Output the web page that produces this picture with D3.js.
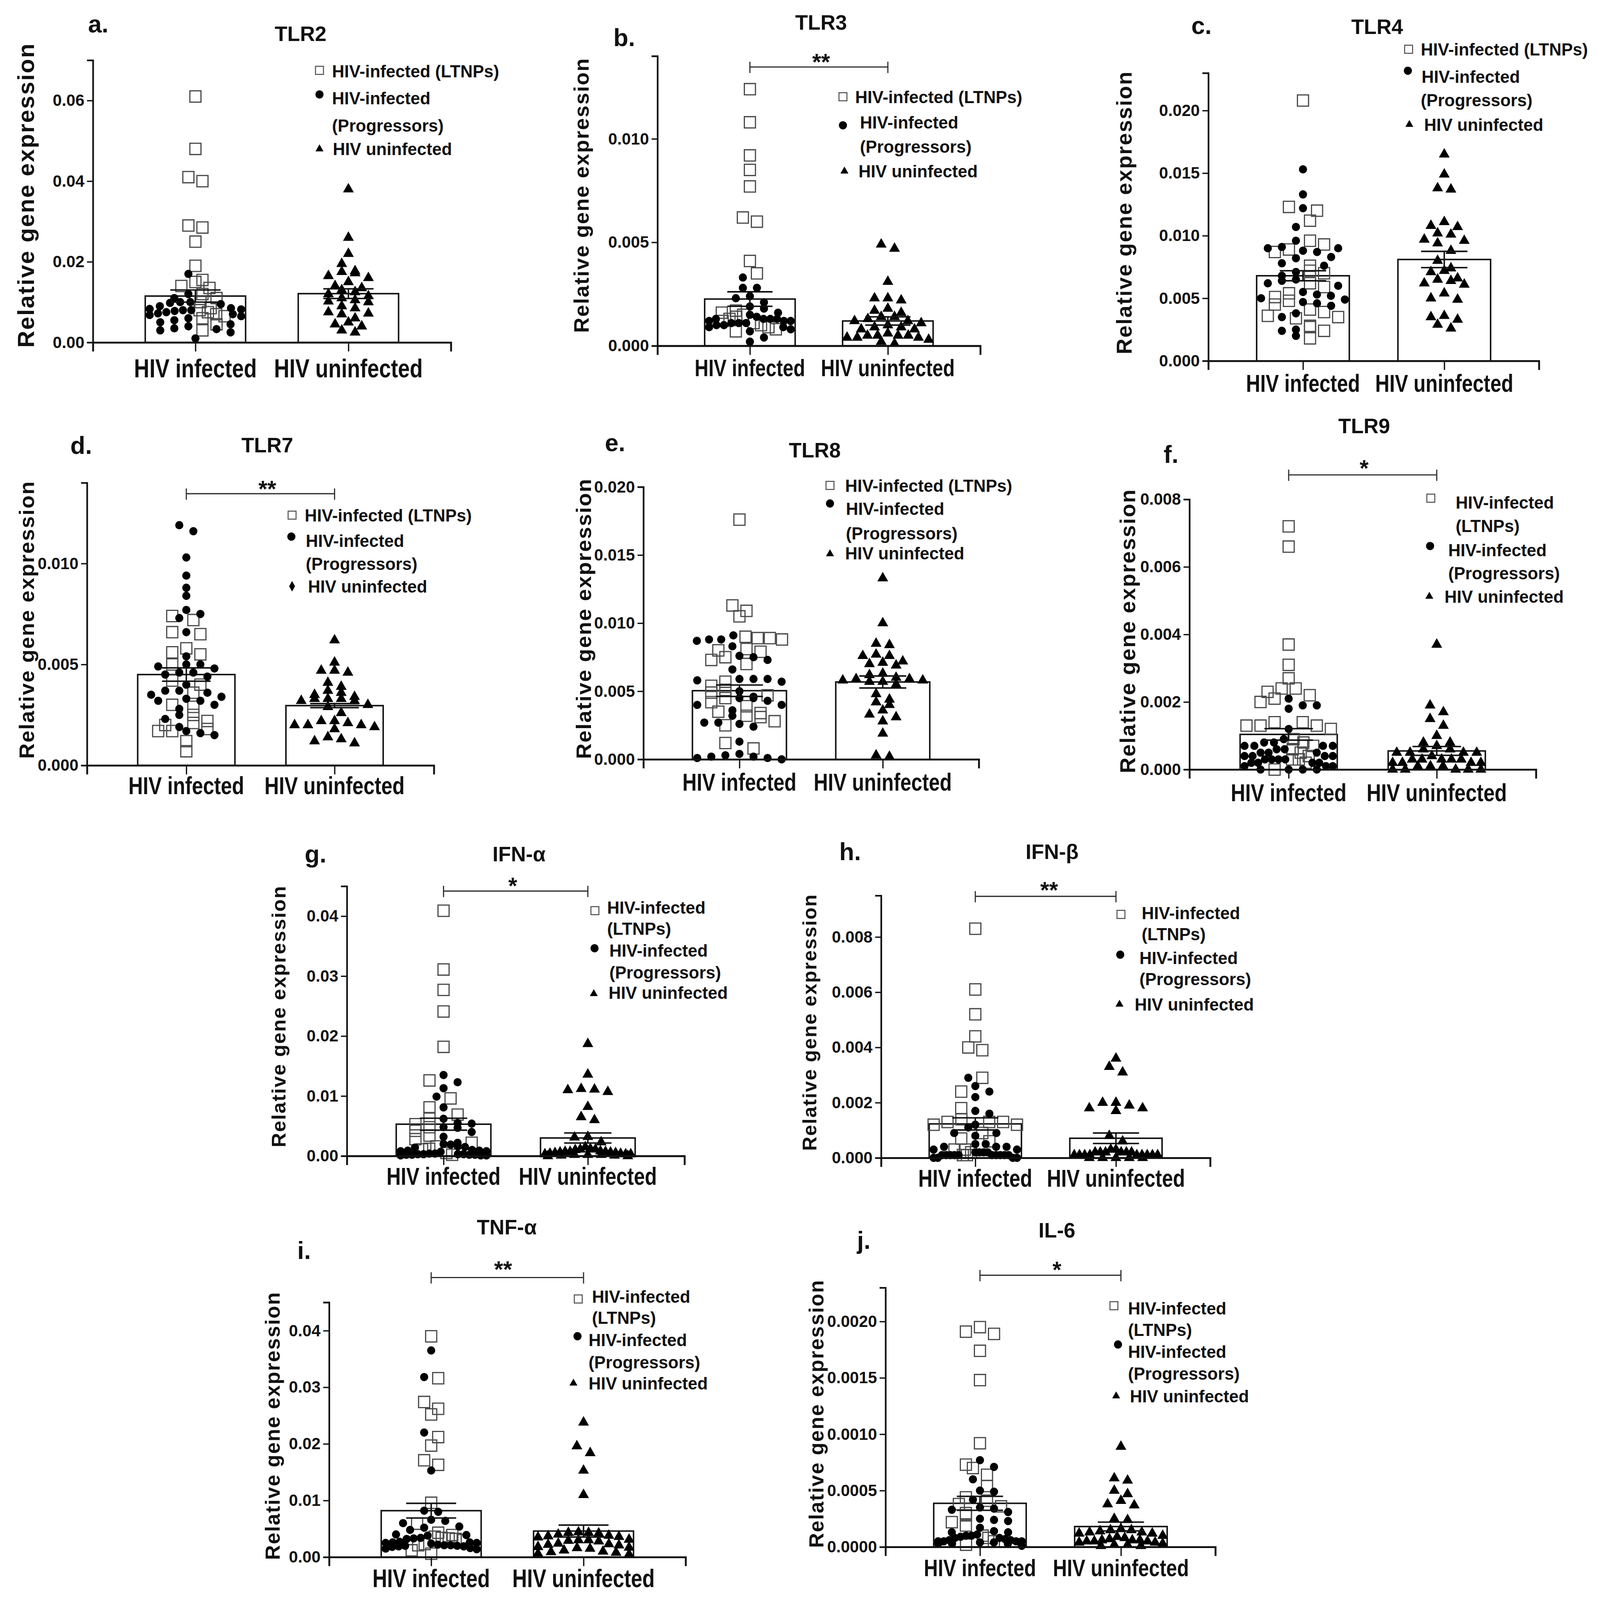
<!DOCTYPE html>
<html><head><meta charset="utf-8">
<script src="https://cdn.jsdelivr.net/npm/d3@7"></script>
<style>
html,body{margin:0;padding:0;background:#fff;overflow:hidden;width:100%;height:100%;}
#chart{display:block;width:100vw;height:100vh;}
svg text{font-family:"Liberation Sans", Arial, Helvetica, sans-serif; font-weight:bold; fill:#111;}
</style></head><body>
<svg id="chart" viewBox="0 0 4322 4252" preserveAspectRatio="none"></svg>
<script>
// ---------------- DATA ----------------
const categories = ["HIV infected", "HIV uninfected"];

// a. TLR2
const tlr2LTNP = [0.061,0.048,0.041,0.040,0.029,0.0285,0.025,0.019,0.0155,0.015,0.014,0.0135,0.012,0.011,0.010,0.0085,0.008,0.0075,0.007,0.0065,0.006,0.0045,0.003];
const tlr2Prog = [0.017,0.012,0.011,0.010,0.010,0.0098,0.0095,0.009,0.0085,0.0083,0.0082,0.008,0.008,0.0078,0.0075,0.0072,0.007,0.0068,0.0065,0.006,0.0055,0.005,0.0045,0.004,0.0035,0.0033,0.003,0.0025,0.001];
const tlr2Uninf = [0.038,0.026,0.022,0.0195,0.0177,0.0175,0.0172,0.0165,0.016,0.015,0.014,0.0135,0.013,0.0125,0.012,0.0115,0.011,0.0105,0.0102,0.010,0.009,0.0085,0.0075,0.0072,0.007,0.006,0.005,0.0045,0.004,0.003,0.0025];
const tlr2Mean = [0.0115,0.0121], tlr2SEM = [0.0015,0.0012];
const tlr2Ticks = [0,0.02,0.04,0.06];

// b. TLR3
const tlr3LTNP = [0.0124,0.0108,0.0092,0.0085,0.0077,0.0062,0.0060,0.0041,0.0035,0.0017,0.0016,0.0015,0.0014,0.0013,0.0012,0.0011,0.0010,0.0009,0.0008,0.0007];
const tlr3Prog = [0.0033,0.0028,0.0028,0.0024,0.0023,0.0021,0.0019,0.0018,0.0016,0.0015,0.0014,0.0013,0.0013,0.0013,0.0013,0.0012,0.0012,0.0012,0.0011,0.0011,0.0011,0.0010,0.0010,0.0009,0.0009,0.0008,0.0007,0.0004,0.0002];
const tlr3Uninf = [0.0049,0.0047,0.0031,0.0023,0.0023,0.0022,0.0018,0.0017,0.0016,0.0014,0.0014,0.0013,0.0012,0.0012,0.0011,0.0010,0.0009,0.0009,0.0008,0.0008,0.0006,0.0005,0.0005,0.0005,0.0005,0.0004,0.0004,0.0004,0.0003,0.0002,0.0001];
const tlr3Mean = [0.00226,0.0012], tlr3SEM = [0.00035,0.0002];
const tlr3Ticks = [0,0.005,0.010];

// c. TLR4
const tlr4LTNP = [0.0208,0.0123,0.0120,0.0112,0.0096,0.0093,0.0089,0.0087,0.0076,0.0072,0.0070,0.0062,0.0059,0.0054,0.0051,0.0048,0.0045,0.0041,0.0039,0.0036,0.0035,0.0034,0.0028,0.0027,0.0024,0.0018];
const tlr4Prog = [0.0153,0.0133,0.0122,0.0107,0.0096,0.0091,0.0090,0.0090,0.0088,0.0087,0.0083,0.0082,0.0078,0.0076,0.0071,0.0068,0.0065,0.0064,0.0062,0.0060,0.0055,0.0053,0.0052,0.0050,0.0049,0.0047,0.0046,0.0044,0.0038,0.0035,0.0025,0.0024,0.0020];
const tlr4Uninf = [0.0165,0.0149,0.0138,0.0137,0.0111,0.0108,0.0107,0.0102,0.0101,0.0097,0.0096,0.0094,0.0088,0.0080,0.0074,0.0072,0.0071,0.0066,0.0065,0.0064,0.0062,0.0061,0.0054,0.0050,0.0049,0.0036,0.0035,0.0033,0.0029,0.0026];
const tlr4Mean = [0.0068,0.0081], tlr4SEM = [0.0004,0.00065];
const tlr4Ticks = [0,0.005,0.010,0.015,0.020];

// d. TLR7
const tlr7LTNP = [0.0074,0.0072,0.0066,0.0065,0.0058,0.0056,0.0055,0.0050,0.0042,0.0040,0.0036,0.0030,0.0029,0.0025,0.0022,0.0021,0.0020,0.0018,0.0017,0.0017,0.0012,0.0007];
const tlr7Prog = [0.0119,0.0116,0.0103,0.0094,0.0088,0.0084,0.0077,0.0075,0.0073,0.0066,0.0054,0.0050,0.0050,0.0049,0.0048,0.0046,0.0046,0.0045,0.0044,0.0040,0.0037,0.0037,0.0036,0.0035,0.0034,0.0033,0.0032,0.0032,0.0030,0.0028,0.0025,0.0023,0.0019,0.0017,0.0016,0.0015];
const tlr7Uninf = [0.0062,0.0051,0.0047,0.0047,0.0046,0.0041,0.0039,0.0037,0.0036,0.0035,0.0034,0.0033,0.0033,0.0033,0.0032,0.0032,0.0030,0.0029,0.0026,0.0022,0.0022,0.0021,0.0020,0.0020,0.0020,0.0019,0.0018,0.0014,0.0013,0.0012,0.0011];
const tlr7Mean = [0.0045,0.00296], tlr7SEM = [0.00033,0.0001];
const tlr7Ticks = [0,0.005,0.010];

// e. TLR8
const tlr8LTNP = [0.0176,0.0113,0.0109,0.0105,0.0090,0.0089,0.0089,0.0088,0.0081,0.0080,0.0079,0.0075,0.0073,0.0070,0.0057,0.0054,0.0051,0.0049,0.0047,0.0045,0.0042,0.0039,0.0035,0.0034,0.0032,0.0031,0.0028,0.0025,0.0012,0.0008];
const tlr8Prog = [0.0091,0.0088,0.0088,0.0087,0.0083,0.0076,0.0075,0.0073,0.0066,0.0059,0.0059,0.0059,0.0058,0.0057,0.0050,0.0046,0.0045,0.0045,0.0043,0.0040,0.0040,0.0036,0.0032,0.0027,0.0027,0.0026,0.0024,0.0013,0.0004,0.0003,0.0002,0.0002,0.0001,0.0001,0.0000];
const tlr8Uninf = [0.0133,0.0100,0.0085,0.0084,0.0077,0.0076,0.0076,0.0072,0.0071,0.0070,0.0069,0.0063,0.0062,0.0060,0.0059,0.0059,0.0058,0.0058,0.0057,0.0057,0.0055,0.0048,0.0044,0.0042,0.0040,0.0036,0.0033,0.0031,0.0028,0.0019,0.0003,0.0002];
const tlr8Mean = [0.00504,0.00568], tlr8SEM = [0.00042,0.00044];
const tlr8Ticks = [0,0.005,0.010,0.015,0.020];

// f. TLR9
const tlr9LTNP = [0.0072,0.0066,0.0037,0.0031,0.0027,0.0024,0.0024,0.0023,0.0022,0.0021,0.0020,0.0014,0.0014,0.0013,0.0013,0.0013,0.0012,0.0009,0.0008,0.0007,0.0006,0.0005,0.0004,0.0003,0.0003,0.0002,0.0000];
const tlr9Prog = [0.0021,0.0019,0.0019,0.0018,0.0012,0.0009,0.0008,0.0008,0.0007,0.0007,0.0007,0.0007,0.0006,0.0006,0.0005,0.0005,0.0005,0.0004,0.0004,0.0004,0.0004,0.0003,0.0003,0.0003,0.0003,0.0002,0.0002,0.0002,0.0002,0.0001,0.0001,0.0001,0.0000,0.0000,0.0000,0.0000];
const tlr9Uninf = [0.0037,0.0019,0.0017,0.0015,0.0013,0.0010,0.0008,0.0008,0.0007,0.0006,0.0006,0.0005,0.0005,0.0005,0.0005,0.0004,0.0003,0.0003,0.0003,0.0003,0.0003,0.0002,0.0002,0.0002,0.0002,0.0001,0.0001,0.0001,0.0000,0.0000,0.0000,0.0000,0.0000];
const tlr9Mean = [0.00104,0.00055], tlr9SEM = [0.00017,0.00013];
const tlr9Ticks = [0,0.002,0.004,0.006,0.008];

// g. IFN-alpha
const ifnaLTNP = [0.0409,0.0311,0.0277,0.0241,0.0182,0.0126,0.0096,0.0081,0.0069,0.0063,0.0053,0.0048,0.0042,0.0034,0.0028,0.0022,0.0016,0.0012,0.0011,0.0005,0.0002];
const ifnaProg = [0.0135,0.0123,0.0113,0.0099,0.0081,0.0062,0.0055,0.0054,0.0048,0.0047,0.0040,0.0032,0.0022,0.0020,0.0019,0.0016,0.0015,0.0014,0.0010,0.0009,0.0009,0.0008,0.0008,0.0007,0.0004,0.0004,0.0003,0.0003,0.0003,0.0003,0.0002,0.0002,0.0002,0.0002,0.0001,0.0001,0.0001];
const ifnaUninf = [0.0187,0.0136,0.0112,0.0111,0.0110,0.0107,0.0082,0.0065,0.0060,0.0032,0.0031,0.0023,0.0015,0.0012,0.0011,0.0011,0.0010,0.0008,0.0007,0.0007,0.0007,0.0006,0.0006,0.0005,0.0005,0.0004,0.0004,0.0003,0.0003,0.0003,0.0002,0.0002,0.0002,0.0001,0.0001,0.0000,0.0000];
const ifnaMean = [0.0053,0.0030], ifnaSEM = [0.0010,0.00084];
const ifnaTicks = [0,0.01,0.02,0.03,0.04];

// h. IFN-beta
const ifnbLTNP = [0.0083,0.0061,0.0052,0.0044,0.0040,0.0039,0.0029,0.0024,0.0018,0.0014,0.0013,0.0013,0.0013,0.0012,0.0012,0.0009,0.0007,0.0006,0.0003,0.0003,0.0002,0.0001,0.0001];
const ifnbProg = [0.0029,0.0026,0.0024,0.0022,0.0017,0.0016,0.0012,0.0011,0.0009,0.0009,0.0008,0.0005,0.0005,0.0004,0.0004,0.0004,0.0003,0.0003,0.0002,0.0002,0.0002,0.0002,0.0001,0.0001,0.0001,0.0001,0.0001,0.0001,0.0001,0.0001,0.0001,0.0001,0.0000,0.0000,0.0000,0.0000];
const ifnbUninf = [0.0036,0.0033,0.0031,0.0020,0.0020,0.0019,0.0018,0.0018,0.0017,0.0008,0.0006,0.0003,0.0003,0.0002,0.0002,0.0002,0.0002,0.0002,0.0002,0.0001,0.0001,0.0001,0.0001,0.0001,0.0001,0.0001,0.0001,0.0001,0.0000,0.0000,0.0000,0.0000,0.0000];
const ifnbMean = [0.00123,0.00071], ifnbSEM = [0.00022,0.00019];
const ifnbTicks = [0,0.002,0.004,0.006,0.008];

// i. TNF-alpha
const tnfLTNP = [0.0390,0.0316,0.0274,0.0262,0.0252,0.0212,0.0197,0.0171,0.0163,0.0096,0.0059,0.0043,0.0039,0.0036,0.0034,0.0033,0.0032,0.0030,0.0023,0.0021,0.0012,0.0006];
const tnfProg = [0.0365,0.0318,0.0220,0.0153,0.0082,0.0080,0.0066,0.0064,0.0060,0.0054,0.0052,0.0048,0.0040,0.0039,0.0038,0.0034,0.0033,0.0032,0.0027,0.0026,0.0026,0.0025,0.0025,0.0024,0.0022,0.0021,0.0021,0.0020,0.0020,0.0019,0.0019,0.0018,0.0016,0.0015,0.0014];
const tnfUninf = [0.0238,0.0196,0.0184,0.0153,0.0110,0.0044,0.0043,0.0043,0.0042,0.0040,0.0038,0.0037,0.0036,0.0035,0.0031,0.0030,0.0030,0.0029,0.0028,0.0024,0.0023,0.0022,0.0021,0.0018,0.0017,0.0016,0.0015,0.0012,0.0010,0.0009,0.0008,0.0006,0.0005];
const tnfMean = [0.0082,0.0046], tnfSEM = [0.0013,0.00105];
const tnfTicks = [0,0.01,0.02,0.03,0.04];

// j. IL-6
const il6LTNP = [0.00195,0.00191,0.00189,0.00174,0.00148,0.00092,0.00073,0.00070,0.00064,0.00054,0.00044,0.00041,0.00038,0.00036,0.00030,0.00028,0.00022,0.00019,0.00010,0.00008,0.00005,0.00002];
const il6Prog = [0.00077,0.00071,0.00060,0.00050,0.00049,0.00042,0.00035,0.00034,0.00033,0.00031,0.00025,0.00024,0.00023,0.00017,0.00014,0.00013,0.00013,0.00011,0.00010,0.00010,0.00009,0.00008,0.00008,0.00007,0.00006,0.00006,0.00005,0.00005,0.00005,0.00005,0.00004,0.00004,0.00003,0.00003,0.00003,0.00001];
const il6Uninf = [0.00089,0.00061,0.00059,0.00050,0.00047,0.00041,0.00038,0.00037,0.00025,0.00024,0.00016,0.00015,0.00015,0.00014,0.00013,0.00013,0.00012,0.00012,0.00010,0.00009,0.00008,0.00007,0.00006,0.00006,0.00006,0.00005,0.00005,0.00005,0.00004,0.00004,0.00003,0.00002,0.00002,0.00001,0.00001];
const il6Mean = [0.000387,0.000181], il6SEM = [0.000062,0.000039];
const il6Ticks = [0,0.0005,0.0010,0.0015,0.0020];

// ---------------- LAYOUT ----------------
const panels = [
 {letter:"a.", title:"TLR2", ltnp:tlr2LTNP, prog:tlr2Prog, uninf:tlr2Uninf, mean:tlr2Mean, sem:tlr2SEM, ticks:tlr2Ticks, fmt:".2f", ymax:0.07, sig:null,
  L:{axisX:251,xEnd:1218,yTop:160,yZero:910,catDy:93,catFs:70,title:[812,109],letter:[238,86],ylab:[72,520,808],
     legM:[["sq",863,187],["ci",863,251],["tri",863,396]],
     legT:[["HIV-infected (LTNPs)",897,189],["HIV-infected",897,261],["(Progressors)",897,333],["HIV uninfected",899,396]]}},
 {letter:"b.", title:"TLR3", ltnp:tlr3LTNP, prog:tlr3Prog, uninf:tlr3Uninf, mean:tlr3Mean, sem:tlr3SEM, ticks:tlr3Ticks, fmt:".3f", ymax:0.014, sig:"**",
  L:{axisX:1776,xEnd:2648,yTop:149,yZero:919,catDy:81,catFs:63,title:[2218,79],letter:[1657,122],ylab:[1572,520,729],bracketY:178,star:[2218,150],
     legM:[["sq",2277,257],["ci",2277,333],["tri",2281,455]],
     legT:[["HIV-infected (LTNPs)",2310,257],["HIV-infected",2323,325],["(Progressors)",2323,389],["HIV uninfected",2319,455]]}},
 {letter:"c.", title:"TLR4", ltnp:tlr4LTNP, prog:tlr4Prog, uninf:tlr4Uninf, mean:tlr4Mean, sem:tlr4SEM, ticks:tlr4Ticks, fmt:".3f", ymax:0.023, sig:null,
  L:{axisX:3264,xEnd:4157,yTop:194,yZero:959,catDy:82,catFs:65,title:[3720,90],letter:[3218,90],ylab:[3038,566,751],
     legM:[["sq",3805,131],["ci",3803,188],["tri",3807,331]],
     legT:[["HIV-infected (LTNPs)",3838,131],["HIV-infected",3840,204],["(Progressors)",3838,266],["HIV uninfected",3847,331]]}},
 {letter:"d.", title:"TLR7", ltnp:tlr7LTNP, prog:tlr7Prog, uninf:tlr7Uninf, mean:tlr7Mean, sem:tlr7SEM, ticks:tlr7Ticks, fmt:".3f", ymax:0.014, sig:"**",
  L:{axisX:235,xEnd:1172,yTop:1283,yZero:2034,catDy:76,catFs:66,title:[722,1202],letter:[190,1206],ylab:[74,1648,737],bracketY:1312,star:[722,1285],
     legM:[["sq",789,1369],["ci",787,1426],["dia",789,1558]],
     legT:[["HIV-infected (LTNPs)",823,1369],["HIV-infected",826,1437],["(Progressors)",826,1498],["HIV uninfected",832,1558]]}},
 {letter:"e.", title:"TLR8", ltnp:tlr8LTNP, prog:tlr8Prog, uninf:tlr8Uninf, mean:tlr8Mean, sem:tlr8SEM, ticks:tlr8Ticks, fmt:".3f", ymax:0.020, sig:null,
  L:{axisX:1738,xEnd:2644,yTop:1294,yZero:2018,catDy:83,catFs:65,title:[2201,1216],letter:[1634,1199],ylab:[1578,1645,744],
     legM:[["sq",2242,1290],["ci",2242,1338],["tri",2242,1472]],
     legT:[["HIV-infected (LTNPs)",2283,1290],["HIV-infected",2285,1352],["(Progressors)",2285,1417],["HIV uninfected",2283,1470]]}},
 {letter:"f.", title:"TLR9", ltnp:tlr9LTNP, prog:tlr9Prog, uninf:tlr9Uninf, mean:tlr9Mean, sem:tlr9SEM, ticks:tlr9Ticks, fmt:".3f", ymax:0.008, sig:"*",
  L:{axisX:3213,xEnd:4149,yTop:1327,yZero:2045,catDy:84,catFs:66,title:[3685,1151],letter:[3143,1230],ylab:[3048,1678,754],bracketY:1262,star:[3685,1230],
     legM:[["sq",3865,1324],["ci",3863,1451],["tri",3861,1585]],
     legT:[["HIV-infected",3932,1335],["(LTNPs)",3932,1397],["HIV-infected",3912,1462],["(Progressors)",3912,1523],["HIV uninfected",3902,1585]]}},
 {letter:"g.", title:"IFN-α", ltnp:ifnaLTNP, prog:ifnaProg, uninf:ifnaUninf, mean:ifnaMean, sem:ifnaSEM, ticks:ifnaTicks, fmt:".2f", ymax:0.045, sig:"*",
  L:{axisX:937,xEnd:1849,yTop:2355,yZero:3072,catDy:77,catFs:65,title:[1402,2289],letter:[823,2292],ylab:[754,2702,694],bracketY:2368,star:[1385,2340],
     legM:[["sq",1607,2420],["ci",1606,2520],["tri",1604,2641]],
     legT:[["HIV-infected",1640,2412],["(LTNPs)",1640,2468],["HIV-infected",1646,2526],["(Progressors)",1646,2584],["HIV uninfected",1644,2638]]}},
 {letter:"h.", title:"IFN-β", ltnp:ifnbLTNP, prog:ifnbProg, uninf:ifnbUninf, mean:ifnbMean, sem:ifnbSEM, ticks:ifnbTicks, fmt:".3f", ymax:0.0095, sig:"**",
  L:{axisX:2380,xEnd:3269,yTop:2380,yZero:3077,catDy:77,catFs:65,title:[2842,2283],letter:[2267,2286],ylab:[2189,2718,681],bracketY:2382,star:[2834,2351],
     legM:[["sq",3028,2430],["ci",3026,2537],["tri",3024,2669]],
     legT:[["HIV-infected",3084,2426],["(LTNPs)",3084,2482],["HIV-infected",3078,2545],["(Progressors)",3078,2602],["HIV uninfected",3065,2669]]}},
 {letter:"i.", title:"TNF-α", ltnp:tnfLTNP, prog:tnfProg, uninf:tnfUninf, mean:tnfMean, sem:tnfSEM, ticks:tnfTicks, fmt:".2f", ymax:0.045, sig:"**",
  L:{axisX:889,xEnd:1852,yTop:3461,yZero:4138,catDy:80,catFs:67,title:[1369,3280],letter:[803,3346],ylab:[738,3790,711],bracketY:3395,star:[1359,3359],
     legM:[["sq",1562,3452],["ci",1560,3551],["tri",1549,3676]],
     legT:[["HIV-infected",1599,3445],["(LTNPs)",1599,3501],["HIV-infected",1590,3561],["(Progressors)",1590,3620],["HIV uninfected",1590,3676]]}},
 {letter:"j.", title:"IL-6", ltnp:il6LTNP, prog:il6Prog, uninf:il6Uninf, mean:il6Mean, sem:il6SEM, ticks:il6Ticks, fmt:".4f", ymax:0.0023, sig:"*",
  L:{axisX:2392,xEnd:3283,yTop:3422,yZero:4111,catDy:78,catFs:64,title:[2855,3289],letter:[2315,3319],ylab:[2207,3758,711],bracketY:3389,star:[2855,3360],
     legM:[["sq",3009,3470],["ci",3020,3573],["tri",3015,3710]],
     legT:[["HIV-infected",3047,3477],["(LTNPs)",3047,3534],["HIV-infected",3047,3592],["(Progressors)",3047,3650],["HIV uninfected",3052,3710]]}}
];

// ---------------- DRAW ----------------
const svg = d3.select("#chart");
svg.append("rect").attr("width",4322).attr("height",4252).attr("fill","#fff");

const SQ = d3.symbol().type(d3.symbolSquare).size(900);
const CI = d3.symbol().type(d3.symbolCircle).size(380);
const TRI = d3.symbol().type(d3.symbolTriangle).size(370);
const LSQ = d3.symbol().type(d3.symbolSquare).size(460);
const LCI = d3.symbol().type(d3.symbolCircle).size(380);
const LTRI = d3.symbol().type(d3.symbolTriangle).size(200);
const LDIA = d3.symbol().type(d3.symbolDiamond).size(220);

// GraphPad-like scatter: points whose positions fall in the same row are spread side by side
function rowLayout(items, yf, binH, sMax, maxHalf){
  const sorted = items.map(d => Object.assign({}, d, {py: yf(d.v)})).sort((a,b) => a.py - b.py);
  const bins = [];
  let cur = null;
  sorted.forEach(it => {
    if (!cur || it.py - cur.start > binH){ cur = {start: it.py, items: []}; bins.push(cur); }
    cur.items.push(it);
  });
  bins.forEach(b => {
    const n = b.items.length;
    const s = n > 1 ? Math.min(sMax, 2*maxHalf/(n-1)) : 0;
    const slots = d3.range(n).map(i => (i - (n-1)/2) * s)
      .sort((p,q) => Math.abs(p) - Math.abs(q) || p - q);
    // alternate squares and circles so they intermix
    const sq = b.items.filter(d => d.t === "sq"), ot = b.items.filter(d => d.t !== "sq");
    const mixed = [];
    while (sq.length || ot.length){ if (ot.length) mixed.push(ot.shift()); if (sq.length) mixed.push(sq.shift()); }
    mixed.forEach((it,i) => { it.dx = slots[i]; });
  });
  return sorted;
}

panels.forEach(p => {
  const L = p.L;
  const g = svg.append("g");
  const x = d3.scalePoint().domain(categories).range([L.axisX, L.xEnd]).padding(0.67);
  const y = d3.scaleLinear().domain([0, p.ymax]).range([L.yZero, L.yTop]);
  const barW = x.step() * 0.656;
  const capW = barW * 0.5;

  // bars
  g.selectAll("rect.bar").data(p.mean).join("rect").attr("class","bar")
    .attr("x",(d,i)=>x(categories[i]) - barW/2).attr("y",d=>y(d))
    .attr("width",barW).attr("height",d=>y(0)-y(d))
    .attr("fill","#fff").attr("stroke","#111").attr("stroke-width",4);

  // points
  const inf = rowLayout(p.ltnp.map(v=>({v,t:"sq"})).concat(p.prog.map(v=>({v,t:"ci"}))), y, 20, 38, barW/2 - 12);
  const un = rowLayout(p.uninf.map(v=>({v,t:"tri"})), y, 20, 36, barW/2 - 12);
  const cx0 = x(categories[0]), cx1 = x(categories[1]);
  g.selectAll("path.sq").data(inf.filter(d=>d.t==="sq")).join("path").attr("class","sq")
    .attr("d",SQ).attr("transform",d=>`translate(${cx0+d.dx},${d.py})`)
    .attr("fill","none").attr("stroke","#4a4a4a").attr("stroke-width",3.2);
  g.selectAll("path.ci").data(inf.filter(d=>d.t==="ci")).join("path").attr("class","ci")
    .attr("d",CI).attr("transform",d=>`translate(${cx0+d.dx},${d.py})`).attr("fill","#000");
  g.selectAll("path.tri").data(un).join("path").attr("class","tri")
    .attr("d",TRI).attr("transform",d=>`translate(${cx1+d.dx},${d.py})`).attr("fill","#000");

  // error bars (mean ± SEM)
  const eb = g.selectAll("g.eb").data(p.mean).join("g").attr("class","eb")
    .attr("stroke","#111").attr("stroke-width",4);
  eb.append("line").attr("x1",(d,i)=>x(categories[i])).attr("x2",(d,i)=>x(categories[i]))
    .attr("y1",(d,i)=>y(d - p.sem[i])).attr("y2",(d,i)=>y(d + p.sem[i]));
  eb.append("line").attr("x1",(d,i)=>x(categories[i])-capW/2).attr("x2",(d,i)=>x(categories[i])+capW/2)
    .attr("y1",(d,i)=>y(d + p.sem[i])).attr("y2",(d,i)=>y(d + p.sem[i]));
  eb.append("line").attr("x1",(d,i)=>x(categories[i])-capW/2).attr("x2",(d,i)=>x(categories[i])+capW/2)
    .attr("y1",(d,i)=>y(d - p.sem[i])).attr("y2",(d,i)=>y(d - p.sem[i]));

  // axes
  const yAx = g.append("g").attr("transform",`translate(${L.axisX},0)`)
    .call(d3.axisLeft(y).tickValues(p.ticks).tickFormat(d3.format(p.fmt)).tickSizeOuter(0).tickSize(16).tickPadding(7));
  yAx.attr("font-family",null).attr("font-size",null);
  yAx.select(".domain").attr("stroke","#111").attr("stroke-width",4.5);
  yAx.selectAll(".tick line").attr("stroke","#111").attr("stroke-width",3.5);
  yAx.selectAll(".tick text").attr("font-size",44).attr("fill","#111");

  const xAx = g.append("g").attr("transform",`translate(0,${L.yZero})`)
    .call(d3.axisBottom(x).tickSizeOuter(0).tickSize(24).tickFormat(""));
  xAx.select(".domain").attr("stroke","#111").attr("stroke-width",5);
  xAx.selectAll(".tick line").attr("stroke","#111").attr("stroke-width",3.5);

  // category labels (narrow bold)
  categories.forEach(c => {
    const t = g.append("text").attr("x",x(c)).attr("y",L.yZero + L.catDy)
      .attr("text-anchor","middle").attr("font-size",L.catFs).text(c);
    const len = t.node().getComputedTextLength();
    t.attr("textLength",len*0.82).attr("lengthAdjust","spacingAndGlyphs");
  });

  // y label
  const fsY = L.ylab[2]/13.0;
  g.append("text").attr("transform",`translate(${L.ylab[0] + 0.32*fsY},${L.ylab[1]}) rotate(-90)`)
    .attr("text-anchor","middle").attr("font-size",fsY)
    .attr("textLength",L.ylab[2]).attr("lengthAdjust","spacing")
    .text("Relative gene expression");

  // title & panel letter
  g.append("text").attr("x",L.title[0]).attr("y",L.title[1]).attr("text-anchor","middle").attr("font-size",56).text(p.title);
  g.append("text").attr("x",L.letter[0]).attr("y",L.letter[1]).attr("font-size",66).text(p.letter);

  // significance bracket
  if (p.sig){
    const br = g.append("g").attr("stroke","#333").attr("stroke-width",3.2).attr("fill","none");
    br.append("line").attr("x1",cx0).attr("x2",cx1).attr("y1",L.bracketY).attr("y2",L.bracketY);
    [cx0,cx1].forEach(cx => br.append("line").attr("x1",cx).attr("x2",cx).attr("y1",L.bracketY-14).attr("y2",L.bracketY+16));
    g.append("text").attr("x",L.star[0]).attr("y",L.star[1] + 0.57*62).attr("text-anchor","middle").attr("font-size",62).text(p.sig);
  }

  // legend
  const symFor = {sq:LSQ, ci:LCI, tri:LTRI, dia:LDIA};
  L.legM.forEach(m => {
    const path = g.append("path").attr("d",symFor[m[0]]).attr("transform",`translate(${m[1]},${m[2]})`);
    if (m[0]==="sq") path.attr("fill","none").attr("stroke","#4a4a4a").attr("stroke-width",2.6);
    else path.attr("fill","#000");
  });
  L.legT.forEach(t => {
    g.append("text").attr("x",t[1]).attr("y",t[2] + 0.36*46).attr("font-size",46).text(t[0]);
  });
});
</script></body></html>
